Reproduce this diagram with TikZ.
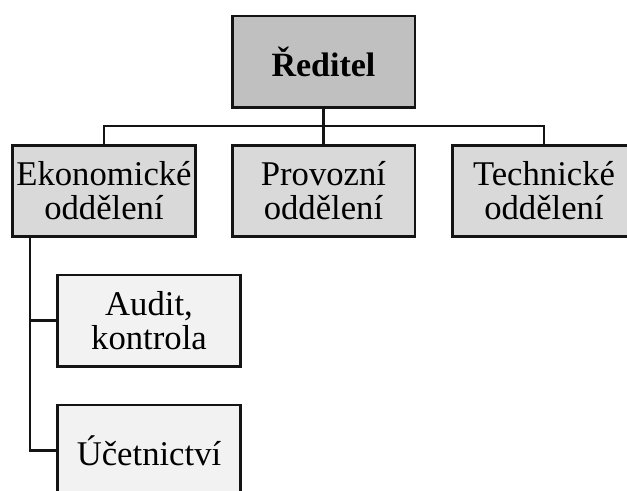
\documentclass[tikz,border=0pt]{standalone}
\usepackage{fontspec}
\setmainfont{Liberation Serif}
\definecolor{topfill}{HTML}{C0C0C0}
\definecolor{midfill}{HTML}{D9D9D9}
\definecolor{lowfill}{HTML}{F2F2F2}
\definecolor{edge}{HTML}{141414}
\begin{document}
\begin{tikzpicture}[x=0.75pt,y=-0.75pt,
  box/.style={draw=edge,line width=2pt,inner sep=0pt,align=center,
    minimum width=137pt,minimum height=68.5pt,
    font=\fontsize{26}{25.5}\selectfont},
  conn/.style={draw=edge,line width=2.2pt}]
\useasboundingbox (0,0) rectangle (627,490);
\clip (0,0) rectangle (627,490);
\fill[white] (0,0) rectangle (627,490);
\node[box,fill=topfill,font=\fontsize{25.5}{26}\selectfont\bfseries] (red) at (323.5,61.5) {Ředitel};
\node[box,fill=midfill] (ekon) at (104,191) {Ekonomické\\oddělení};
\node[box,fill=midfill] (prov) at (323.5,191) {Provozní\\oddělení};
\node[box,fill=midfill] (tech) at (544,191) {Technické\\oddělení};
\node[box,fill=lowfill] (audit) at (149,320.5) {Audit,\\kontrola};
\node[box,fill=lowfill] (ucet) at (149,450.5) {Účetnictví};
\coordinate (bus) at (323.5,126);
\coordinate (trunk) at (30,237);
\draw[conn] (red.south) -- (bus);
\draw[conn] (ekon.north) |- (bus) -| (tech.north);
\draw[conn] (bus) -- (prov.north);
\draw[conn] (trunk) |- (audit.west);
\draw[conn] (trunk) |- (ucet.west);
\end{tikzpicture}
\end{document}
